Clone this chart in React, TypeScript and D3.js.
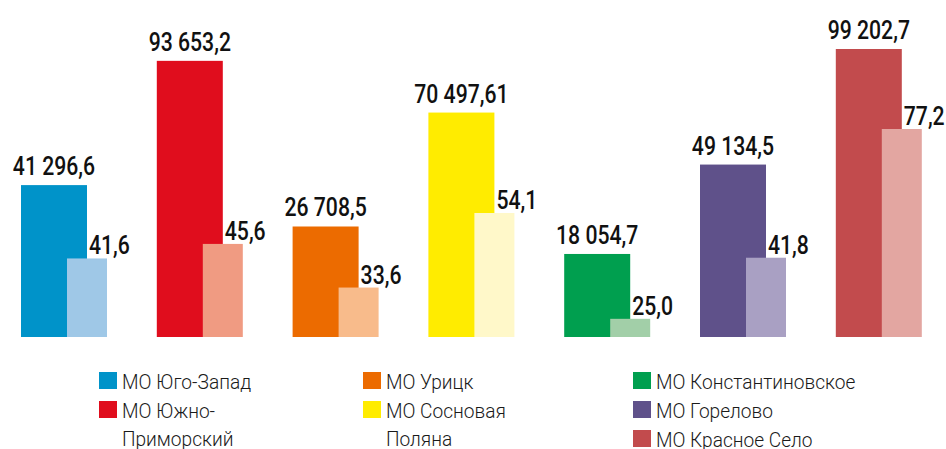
import React from "react";
import * as d3 from "d3";

const categories = [
  "МО Юго-Запад",
  "МО Южно-Приморский",
  "МО Урицк",
  "МО Сосновая Поляна",
  "МО Константиновское",
  "МО Горелово",
  "МО Красное Село",
];
const mainValues = [41296.6, 93653.2, 26708.5, 70497.61, 18054.7, 49134.5, 99202.7];
const mainLabels = ["41 296,6", "93 653,2", "26 708,5", "70 497,61", "18 054,7", "49 134,5", "99 202,7"];
const secondValues = [41.6, 45.6, 33.6, 54.1, 25.0, 41.8, 77.2];
const secondLabels = ["41,6", "45,6", "33,6", "54,1", "25,0", "41,8", "77,2"];
const mainColors = ["#0093c9", "#e00d1d", "#ec6b00", "#ffec00", "#009f4f", "#5f518a", "#c24b4d"];
const lightColors = ["#9fc8e7", "#f09b82", "#f8bb8b", "#fff8c9", "#a2cfa8", "#a9a0c3", "#e3a6a1"];
// legend layout: column of each item, and its lines
const legendLines = [
  ["МО Юго-Запад"],
  ["МО Южно-", "Приморский"],
  ["МО Урицк"],
  ["МО Сосновая", "Поляна"],
  ["МО Константиновское"],
  ["МО Горелово"],
  ["МО Красное Село"],
];
const legendColumn = [0, 0, 1, 1, 2, 2, 2];
const legendRow = [0, 1, 0, 1, 0, 1, 2];

const W = 946;
const H = 449;
const baseline = 337;

export default function App() {
  const x = d3
    .scaleBand<string>()
    .domain(categories)
    .range([21, 21 + 7 * 135.8])
    .paddingInner(0)
    .paddingOuter(0);
  const mainW = 66;
  const lightW = 40;
  const lightOffset = 46;

  const yMain = d3.scalePow().exponent(0.73).domain([0, 99202.7]).range([baseline, 49]);
  const ySecond = d3.scaleLinear().domain([20, 77.2]).range([baseline, 129]);

  const legendX = d3.scaleOrdinal<number, number>().domain([0, 1, 2]).range([99, 363, 633]);
  const legendY = d3.scaleLinear().domain([0, 1]).range([372, 401]);

  return (
    <svg
      width={W}
      height={H}
      style={{ position: "absolute", left: 0, top: 0, background: "#fff" }}
      fontFamily="Roboto, 'Noto Sans', sans-serif"
    >
      <rect width={W} height={H} fill="#fff" />
      {categories.map((c, i) => {
        const x0 = x(c)!;
        const yM = yMain(mainValues[i]);
        const yS = ySecond(secondValues[i]);
        return (
          <g key={c}>
            <rect x={x0} y={yM} width={mainW} height={baseline - yM} fill={mainColors[i]} />
            <rect x={x0 + lightOffset} y={yS} width={lightW} height={baseline - yS} fill={lightColors[i]} />
            <g transform={`translate(${x0 + mainW / 2},${yM - 10}) scale(0.8,1)`}>
              <text textAnchor="middle" fontSize={26.5} fontWeight={500} fill="#111">
                {mainLabels[i]}
              </text>
            </g>
            <g transform={`translate(${x0 + mainW + 2},${yS - 4}) scale(0.8,1)`}>
              <text textAnchor="start" fontSize={26.5} fontWeight={500} fill="#111">
                {secondLabels[i]}
              </text>
            </g>
          </g>
        );
      })}
      {legendLines.map((lines, i) => {
        const lx = legendX(legendColumn[i]);
        const ly = legendY(legendRow[i]);
        return (
          <g key={"lg" + i}>
            <rect x={lx} y={ly} width={18} height={17} fill={mainColors[i]} />
            <g transform={`translate(${lx + 23},${ly + 16.5}) scale(0.98,1)`}>
              {lines.map((t, k) => (
                <text key={k} x={0} y={k * 29} fontSize={19.5} fontWeight={300} fill="#1a1a1a">
                  {t}
                </text>
              ))}
            </g>
          </g>
        );
      })}
    </svg>
  );
}
